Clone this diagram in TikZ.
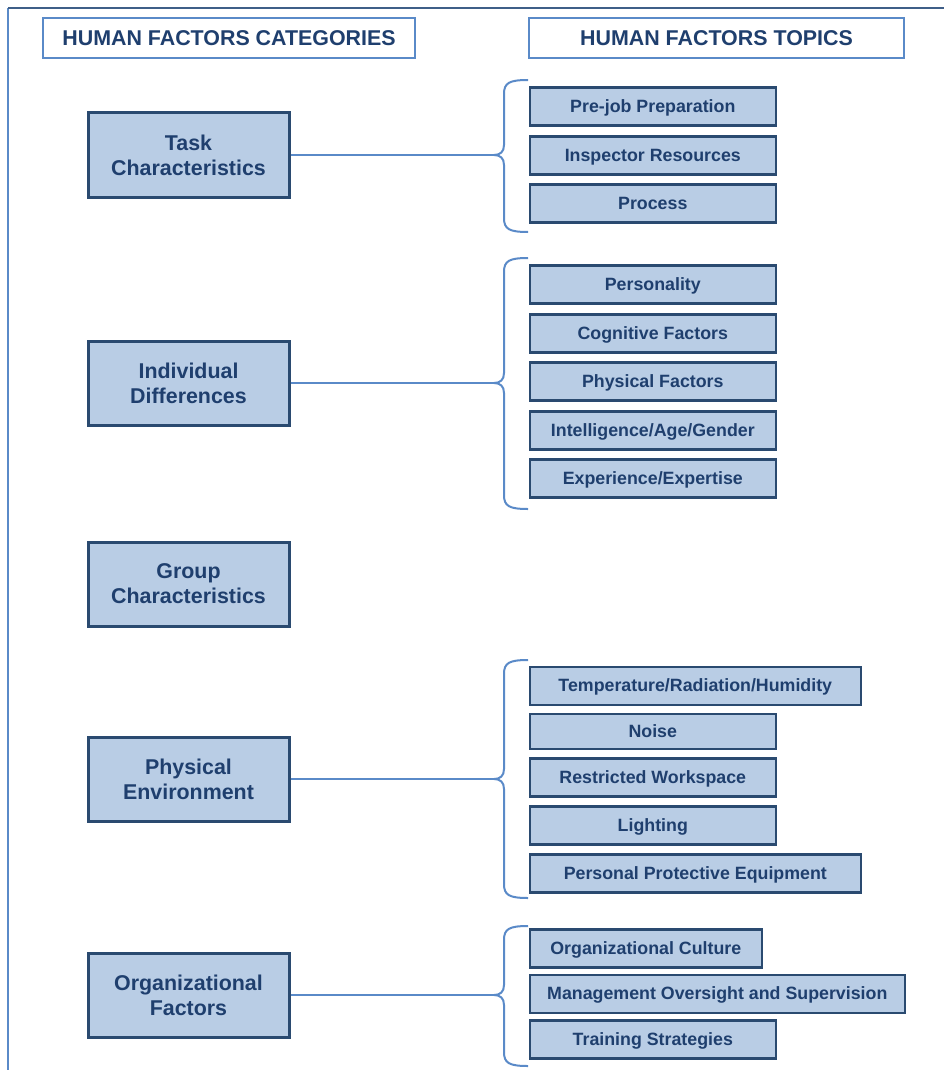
\documentclass[tikz,border=0pt]{standalone}
\usepackage{fontspec}
\setmainfont{Liberation Sans}
\usepackage{tikz}
\usetikzlibrary{positioning,calc}
\usepackage{xcolor}
\definecolor{catfill}{HTML}{B9CDE5}
\definecolor{catline}{HTML}{2A4A70}
\definecolor{hftext}{HTML}{1F3F6E}
\definecolor{hfblue}{HTML}{5A8AC8}
\definecolor{frametop}{HTML}{3F5F88}

\begin{document}
\begin{tikzpicture}[x=0.5pt,y=-0.5pt,
  header/.style={draw=hfblue,line width=1.3pt,fill=white,text=hftext,font=\bfseries\fontsize{10.7}{12.5}\selectfont,minimum height=20pt,inner sep=0pt},
  category/.style={draw=catline,line width=1.5pt,fill=catfill,text=hftext,align=center,font=\bfseries\fontsize{10.7}{12.5}\selectfont,minimum width=100.5pt,minimum height=42pt,inner sep=0pt},
  topic/.style={draw=catline,line width=1.3pt,fill=catfill,text=hftext,anchor=west,font=\bfseries\fontsize{8.9}{10.5}\selectfont,text depth=0.5pt,minimum width=123pt,minimum height=19pt,inner sep=0pt},
  link/.style={draw=hfblue,line width=1pt}]
\useasboundingbox (0,0) rectangle (944,1070);
% frame
\draw[hfblue,line width=1pt] (8,1070) -- (8,8);
\draw[frametop,line width=1pt] (8,8) -- (944,8);
% headings
\node[header,minimum width=186pt] (hcat) at (229,38) {HUMAN FACTORS CATEGORIES};
\node[header,minimum width=187.5pt] (htop) at (716.5,38) {HUMAN FACTORS TOPICS};
% categories
\node[category] (task) at (188.5,155) {Task\\Characteristics};
\node[category] (indiv) at (188.5,383) {Individual\\Differences};
\node[category] (group) at (188.5,584) {Group\\Characteristics};
\node[category] (phys) at (188.5,779) {Physical\\Environment};
\node[category] (org) at (188.5,995) {Organizational\\Factors};
% topics
\node[topic] (prejob) at (528.5,106.5) {Pre-job Preparation};
\node[topic] (inspres) at (528.5,155.5) {Inspector Resources};
\node[topic] (process) at (528.5,203.5) {Process};
\node[topic] (person) at (528.5,284.5) {Personality};
\node[topic] (cogn) at (528.5,333.5) {Cognitive Factors};
\node[topic] (physf) at (528.5,381.5) {Physical Factors};
\node[topic] (intel) at (528.5,430.5) {Intelligence/Age/Gender};
\node[topic] (exper) at (528.5,478.5) {Experience/Expertise};
\node[topic,minimum width=165.5pt] (temp) at (528.5,686) {Temperature/Radiation/Humidity};
\node[topic,minimum height=17.5pt] (noise) at (528.5,731.5) {Noise};
\node[topic] (restr) at (528.5,777.5) {Restricted Workspace};
\node[topic] (light) at (528.5,825.5) {Lighting};
\node[topic,minimum width=165.5pt] (ppe) at (528.5,873.5) {Personal Protective Equipment};
\node[topic,minimum width=116pt] (culture) at (528.5,948.5) {Organizational Culture};
\node[topic,minimum width=187.5pt] (mgmt) at (528.5,994) {Management Oversight and Supervision};
\node[topic] (train) at (528.5,1039.5) {Training Strategies};
% braces
\foreach \t/\b/\m/\n in {80/232/155/tiptask,258/509/383/tipindiv,660/898/779/tipphys,926/1066/995/tiporg}{
  \draw[link] (528,\t) .. controls (509,\t) and (504,\t+3) .. (504,\t+14) -- (504,\m-10)
    .. controls (504,\m-3) and (500,\m) .. (494,\m) .. controls (500,\m) and (504,\m+3) .. (504,\m+10)
    -- (504,\b-14) .. controls (504,\b-3) and (509,\b) .. (528,\b);
  \coordinate (\n) at (494,\m);
}
% links
\draw[link] (task.east) -- (tiptask);
\draw[link] (indiv.east) -- (tipindiv);
\draw[link] (phys.east) -- (tipphys);
\draw[link] (org.east) -- (tiporg);
\end{tikzpicture}
\end{document}
